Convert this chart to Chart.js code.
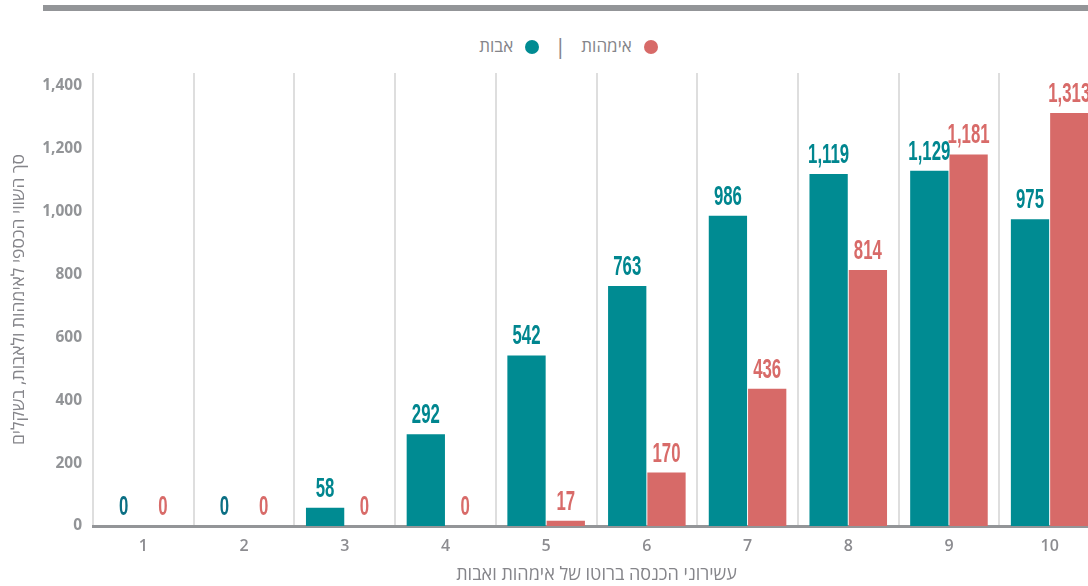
<!DOCTYPE html>
<html lang="he">
<head>
<meta charset="utf-8">
<script src="https://cdn.jsdelivr.net/npm/chart.js@4.4.1/dist/chart.umd.min.js"></script>
<style>
  html, body { margin: 0; padding: 0; background: #fff; width: 1088px; height: 586px; overflow: hidden; }
  #topline { position: absolute; left: 43px; top: 5px; width: 1100px; height: 6px; background: #939598; }
  #legend { position: absolute; left: 0; top: 30px; width: 1137px; text-align: center; direction: rtl;
            font-family: "Open Sans", "Liberation Sans", "DejaVu Sans", sans-serif; font-size: 17px; color: #85858a; }
  #legend .item { display: inline-block; vertical-align: middle; }
  #legend .dot { display: inline-block; width: 14px; height: 14px; border-radius: 50%; vertical-align: middle; margin-left: 12px; }
  #legend .sep { display: inline-block; margin: 0 15px; color: #85858a; vertical-align: middle; font-size: 22px; }
  #wrap { position: absolute; left: 0; top: 0; width: 1110px; height: 586px; }
</style>
</head>
<body>
<div id="topline"></div>
<div id="legend"></div>
<div id="wrap"><canvas id="chart"></canvas></div>
<script>
// data
const deciles = ['1', '2', '3', '4', '5', '6', '7', '8', '9', '10'];
const fathers = [0, 0, 58, 292, 542, 763, 986, 1119, 1129, 975];
const mothers = [0, 0, 0, 0, 17, 170, 436, 814, 1181, 1313];
const yTickValues = [0, 200, 400, 600, 800, 1000, 1200, 1400];
const seriesNames = ['אבות', 'אימהות'];
const seriesColors = ['#008b92', '#d76a68'];
const labelColors = ['#00868f', '#d86b69'];
const zeroLabelColors = ['#0b6f84', '#d86b69'];
const yMax = 1440;
const xTitle = 'עשירוני הכנסה ברוטו של אימהות ואבות';
const yTitle = 'סך השווי הכספי לאימהות ולאבות, בשקלים';

const FONT = '"Open Sans", "Liberation Sans", "DejaVu Sans", sans-serif';

// html legend: mothers first (rightmost), then separator, then fathers
const legend = document.getElementById('legend');
[1, 0].forEach(function (i, n) {
  if (n > 0) {
    const sep = document.createElement('span');
    sep.className = 'sep';
    sep.textContent = '|';
    legend.appendChild(sep);
  }
  const item = document.createElement('span');
  item.className = 'item';
  item.innerHTML = '<span class="dot" style="background:' + seriesColors[i] + '"></span>' + seriesNames[i];
  legend.appendChild(item);
});

// value labels above the bars, squeezed to look condensed
const barLabels = {
  id: 'barLabels',
  afterDatasetsDraw(chart) {
    const ctx = chart.ctx;
    chart.data.datasets.forEach(function (ds, i) {
      chart.getDatasetMeta(i).data.forEach(function (bar, j) {
        const v = ds.data[j];
        ctx.save();
        ctx.translate(bar.x, bar.y - 11);
        ctx.scale(0.6, 1);
        ctx.font = 'bold 28px "Liberation Sans", Arial, sans-serif';
        ctx.fillStyle = v === 0 ? zeroLabelColors[i] : labelColors[i];
        ctx.textAlign = 'center';
        ctx.textBaseline = 'alphabetic';
        ctx.fillText(v.toLocaleString('en-US'), 0, 0);
        ctx.restore();
      });
    });
  }
};

new Chart(document.getElementById('chart'), {
  type: 'bar',
  data: {
    labels: deciles,
    datasets: [
      { label: seriesNames[0], data: fathers, backgroundColor: seriesColors[0] },
      { label: seriesNames[1], data: mothers, backgroundColor: seriesColors[1] }
    ]
  },
  options: {
    responsive: true,
    maintainAspectRatio: false,
    animation: false,
    categoryPercentage: 0.78,
    barPercentage: 0.975,
    layout: { padding: { top: 73, right: 10, left: 0, bottom: 0 } },
    plugins: { legend: { display: false }, tooltip: { enabled: false } },
    scales: {
      x: {
        grid: { offset: true, color: '#dedede', lineWidth: 2, drawTicks: false },
        border: { color: '#939598', width: 3 },
        ticks: { color: '#8c8c90', font: { family: FONT, size: 16, weight: '600' }, padding: 11 },
        title: { display: true, text: xTitle, color: '#85858a', font: { family: FONT, size: 18 }, padding: { top: 0, bottom: 0 } },
        afterFit(scale) { scale.height = 60; }
      },
      y: {
        min: 0,
        max: yMax,
        grid: { display: false, drawTicks: false },
        border: { display: false },
        ticks: {
          autoSkip: false,
          color: '#929497',
          font: { family: FONT, size: 15.5, weight: 'bold' },
          padding: 11,
          callback: function (v) { return v.toLocaleString('en-US'); }
        },
        afterBuildTicks(scale) { scale.ticks = yTickValues.map(function (v) { return { value: v }; }); },
        title: { display: true, text: yTitle, color: '#85858a', font: { family: FONT, size: 17.5 }, padding: { top: 9, bottom: 0 } },
        afterFit(scale) { scale.width = 93; }
      }
    }
  },
  plugins: [barLabels]
});
</script>
</body>
</html>
